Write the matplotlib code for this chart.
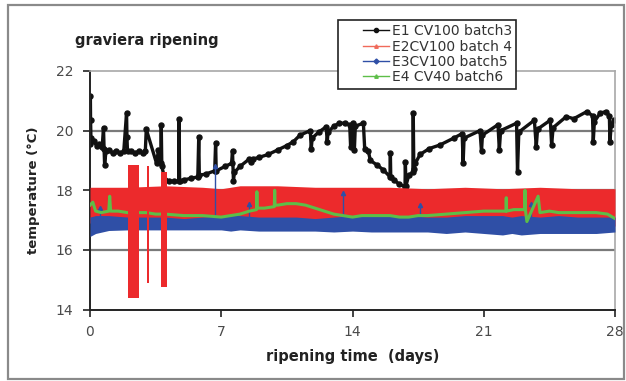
import matplotlib
matplotlib.use("Agg")
import matplotlib.pyplot as plt
from matplotlib.lines import Line2D
from matplotlib.patches import Rectangle
from matplotlib.legend_handler import HandlerLine2D

plt.rcParams['font.family'] = ['DejaVu Sans']

# ---------------- data ----------------
x_ticks = [0, 7, 14, 21, 28]
y_ticks = [14, 16, 18, 20, 22]

series_names = ["E1 CV100 batch3", "E2CV100 batch 4", "E3CV100 batch5", "E4 CV40 batch6"]

# E1 (black) - read point by point
e1_day = [0.00, 0.02, 0.03, 0.05, 0.2, 0.35, 0.5, 0.65, 0.72, 0.75, 0.78, 0.85, 1.0, 1.2, 1.4,
          1.6, 1.8, 1.95, 1.97, 2.0, 2.2, 2.4, 2.6, 2.8, 2.95, 3.0, 3.55, 3.65, 3.78, 3.8, 3.83,
          4.0, 4.2, 4.5, 4.73, 4.75, 4.78, 5.0, 5.4, 5.75, 5.8, 5.83, 6.2, 6.65, 6.7, 6.73, 7.2,
          7.55, 7.6, 7.65, 7.7, 8.0, 8.5, 8.6, 8.7, 9.0, 9.5, 10.0, 10.5, 10.85, 11.2, 11.75, 11.8,
          11.85, 12.2, 12.6, 12.65, 12.7, 13.0, 13.3, 13.6, 13.85, 13.9, 13.95, 14.05, 14.1, 14.15,
          14.58, 14.65, 14.85, 14.95, 15.3, 15.65, 16.0, 16.02, 16.04, 16.2, 16.5, 16.8, 16.82,
          16.85, 17.0, 17.22, 17.24, 17.27, 17.35, 17.6, 18.1, 18.67, 19.4, 19.85, 19.9, 19.95,
          20.8, 20.88, 20.93, 21.76, 21.83, 21.9, 22.75, 22.8, 22.87, 23.7, 23.8, 23.87, 24.55,
          24.62, 24.7, 25.4, 25.8, 26.5, 26.8, 26.84, 26.9, 27.2, 27.5, 27.7, 27.73, 27.8, 27.95]
e1_temp = [19.55, 21.15, 20.35, 19.75, 19.65, 19.5, 19.55, 19.45, 20.1, 19.4, 18.85, 19.3, 19.35,
           19.25, 19.3, 19.25, 19.3, 20.6, 19.8, 19.3, 19.3, 19.25, 19.3, 19.25, 19.3, 20.05,
           18.9, 19.35, 18.9, 20.2, 18.8, 18.35, 18.3, 18.3, 18.3, 20.4, 18.3, 18.35, 18.4, 18.45,
           19.8, 18.5, 18.55, 18.65, 19.6, 18.65, 18.8, 18.9, 19.33, 18.3, 18.6, 18.8, 19.05,
           18.95, 19.05, 19.1, 19.2, 19.35, 19.5, 19.63, 19.85, 20.0, 19.4, 19.75, 19.95, 20.13,
           19.63, 19.95, 20.15, 20.25, 20.25, 20.2, 19.45, 20.1, 20.25, 19.35, 20.15, 20.25, 19.4,
           19.3, 19.0, 18.85, 18.68, 18.45, 19.25, 18.45, 18.35, 18.2, 18.12, 18.95, 18.15, 18.5,
           18.6, 20.58, 18.7, 18.9, 19.2, 19.4, 19.52, 19.75, 19.9, 18.9, 19.75, 20.0, 19.3, 19.85,
           20.2, 19.35, 20.0, 20.25, 18.62, 19.95, 20.35, 19.46, 20.05, 20.35, 19.52, 20.1, 20.47,
           20.4, 20.64, 20.5, 19.63, 20.3, 20.58, 20.64, 20.5, 19.63, 20.2, 20.35]

# E2 (red) - envelope of the dense band
e2_day = [0, 2, 4, 6, 7, 8, 10, 12, 14, 16, 18, 20, 22, 24, 26, 28]
e2_high = [18.1, 18.1, 18.15, 18.1, 18.05, 18.15, 18.15, 18.1, 18.1, 18.1, 18.05, 18.1, 18.05,
           18.1, 18.05, 18.05]
e2_low = [16.9, 16.8, 16.85, 16.8, 16.75, 16.8, 16.8, 16.8, 16.8, 16.75, 16.8, 16.8, 16.75,
          16.75, 16.8, 16.8]
# E2 excursions (start day, end day, min, max)
e2_exc_start = [2.0, 3.05, 3.8]
e2_exc_end = [2.6, 3.17, 4.1]
e2_exc_min = [14.4, 14.9, 14.75]
e2_exc_max = [18.85, 18.8, 18.6]

# E3 (blue) - envelope of the dense band
e3_day = [0, 0.3, 1, 2, 3, 4, 5, 6, 7, 7.5, 8, 9, 10, 11, 12, 13, 14, 15, 16, 17, 18, 19, 20,
          21, 22, 22.5, 23, 24, 25, 26, 27, 28]
e3_high = [17.1, 17.15, 17.15, 17.1, 17.1, 17.1, 17.05, 17.1, 17.15, 17.2, 17.15, 17.1, 17.1,
           17.1, 17.05, 17.1, 17.15, 17.2, 17.15, 17.15, 17.1, 17.1, 17.15, 17.15, 17.15, 17.1,
           17.15, 17.1, 17.15, 17.1, 17.1, 17.1]
e3_low = [16.45, 16.55, 16.65, 16.67, 16.67, 16.67, 16.67, 16.67, 16.67, 16.63, 16.67, 16.63,
          16.63, 16.63, 16.63, 16.6, 16.63, 16.6, 16.6, 16.6, 16.6, 16.55, 16.6, 16.55,
          16.5, 16.55, 16.5, 16.55, 16.55, 16.55, 16.55, 16.6]
e3_spike_day = [0.53, 6.67, 8.5, 13.5, 17.6, 23.5]
e3_spike_temp = [17.4, 18.8, 17.55, 17.9, 17.5, 17.55]

# E4 (green)
e4_day = [0.0, 0.15, 0.3, 0.6, 1.0, 1.05, 1.1, 1.5, 2.0, 2.5, 3.0, 3.5, 4.0, 5.0, 6.0, 7.0,
          7.5, 8.0, 8.5, 8.88, 8.9, 8.92, 9.3, 9.83, 9.85, 9.87, 10.0, 10.5, 11.0, 11.5, 12.0,
          12.5, 13.0, 13.5, 14.0, 14.5, 15.0, 15.5, 16.0, 16.5, 17.0, 17.5, 18.0, 19.0, 20.0,
          21.0, 22.0, 22.18, 22.2, 22.22, 22.6, 23.0, 23.18, 23.2, 23.22, 23.3, 23.9, 24.0,
          24.5, 25.0, 26.0, 27.0, 27.6, 28.0]
e4_temp = [17.5, 17.6, 17.3, 17.25, 17.3, 17.8, 17.3, 17.3, 17.25, 17.25, 17.25, 17.2, 17.2,
           17.15, 17.15, 17.1, 17.15, 17.2, 17.3, 17.35, 17.95, 17.4, 17.4, 17.45, 18.0, 17.5,
           17.5, 17.55, 17.55, 17.5, 17.4, 17.3, 17.2, 17.15, 17.1, 17.15, 17.15, 17.15, 17.15,
           17.1, 17.1, 17.15, 17.15, 17.2, 17.25, 17.3, 17.3, 17.3, 17.75, 17.3, 17.35, 17.35,
           17.35, 18.0, 17.35, 16.95, 17.8, 17.25, 17.3, 17.25, 17.25, 17.25, 17.2, 17.05]

# ---------------- style ----------------
BLACK = '#111111'
RED = '#EC2A2C'
BLUE = '#2F4FA6'
GREEN = '#5DBE48'

W, H = 626, 381
fig = plt.figure(figsize=(W / 100, H / 100), dpi=100)
fig.patch.set_facecolor('white')

# outer frame
fig.patches.append(Rectangle((8 / W, 2 / H), (624 - 8) / W, (379 - 5) / H,
                             transform=fig.transFigure, fill=False,
                             edgecolor='#8a8a8a', linewidth=1.6))

ax = fig.add_axes([90 / W, 1 - 309.5 / H, 525 / W, 238.5 / H])
ax.set_xlim(0, 28)
ax.set_ylim(14, 22)

# grid
for yv in y_ticks[1:-1]:
    ax.axhline(yv, color='#7a7a7a', lw=1.6, zorder=1)

# E1
ax.plot(e1_day, e1_temp, color=BLACK, lw=2.4, marker='o', ms=3.6, zorder=2)

# E2 band
ax.fill_between(e2_day, e2_low, e2_high, color=RED, lw=0, zorder=3)
for s, e, lo, hi in zip(e2_exc_start, e2_exc_end, e2_exc_min, e2_exc_max):
    ax.fill_between([s, e], [lo, lo], [hi, hi], color=RED, lw=0, zorder=6)

# E3 band
ax.fill_between(e3_day, e3_low, e3_high, color=BLUE, lw=0, zorder=4)
ax.vlines(e3_spike_day, 17.0, e3_spike_temp, color=BLUE, lw=1.0, zorder=4)
ax.plot(e3_spike_day, e3_spike_temp, ls='none', marker='^', ms=3, color=BLUE, zorder=4)

# E4
ax.plot(e4_day, e4_temp, color=GREEN, lw=2.2, zorder=5)

# axes styling
ax.set_xticks(x_ticks)
ax.set_yticks(y_ticks)
ax.tick_params(axis='both', direction='out', length=5, width=1.2, color='#222222',
               labelsize=10, labelcolor='#4a4a4a')
ax.tick_params(axis='x', pad=6)
ax.tick_params(axis='y', pad=7)
for side in ['left', 'bottom']:
    ax.spines[side].set_color('#222222')
    ax.spines[side].set_linewidth(1.4)
for side in ['top', 'right']:
    ax.spines[side].set_color('#a8a8a8')
    ax.spines[side].set_linewidth(1.2)

# texts
fig.text(75 / W, 1 - 41 / H, 'graviera ripening', fontsize=10.5, fontweight='bold',
         ha='left', va='center', color='#222222')
fig.text(352.5 / W, 1 - 356 / H, 'ripening time  (days)', fontsize=10.5, fontweight='bold',
         ha='center', va='center', color='#222222')
fig.text(33 / W, 1 - 190.5 / H, 'temperature (°C)', fontsize=9.5, fontweight='bold',
         rotation=90, ha='center', va='center', color='#222222')

# legend
handles = [
    Line2D([], [], color=BLACK, lw=1.0, marker='o', ms=3),
    Line2D([], [], color='#F06A5A', lw=1.0, marker='^', ms=2.5),
    Line2D([], [], color=BLUE, lw=1.0, marker='D', ms=2.5),
    Line2D([], [], color=GREEN, lw=1.0, marker='^', ms=2.5),
]
leg = fig.legend(handles, series_names, loc='upper left',
                 bbox_to_anchor=(338 / W, 1 - 20 / H), borderaxespad=0,
                 fontsize=10, frameon=True, fancybox=False, edgecolor='#222222',
                 framealpha=1, labelspacing=0.1, handlelength=3.4, handletextpad=0.2,
                 borderpad=0.3, numpoints=1,
                 handler_map={Line2D: HandlerLine2D(xpad=1.5, numpoints=1)})
leg.get_frame().set_linewidth(1.2)
for t in leg.get_texts():
    t.set_color('#333333')

fig.savefig('out.png', dpi=100)
